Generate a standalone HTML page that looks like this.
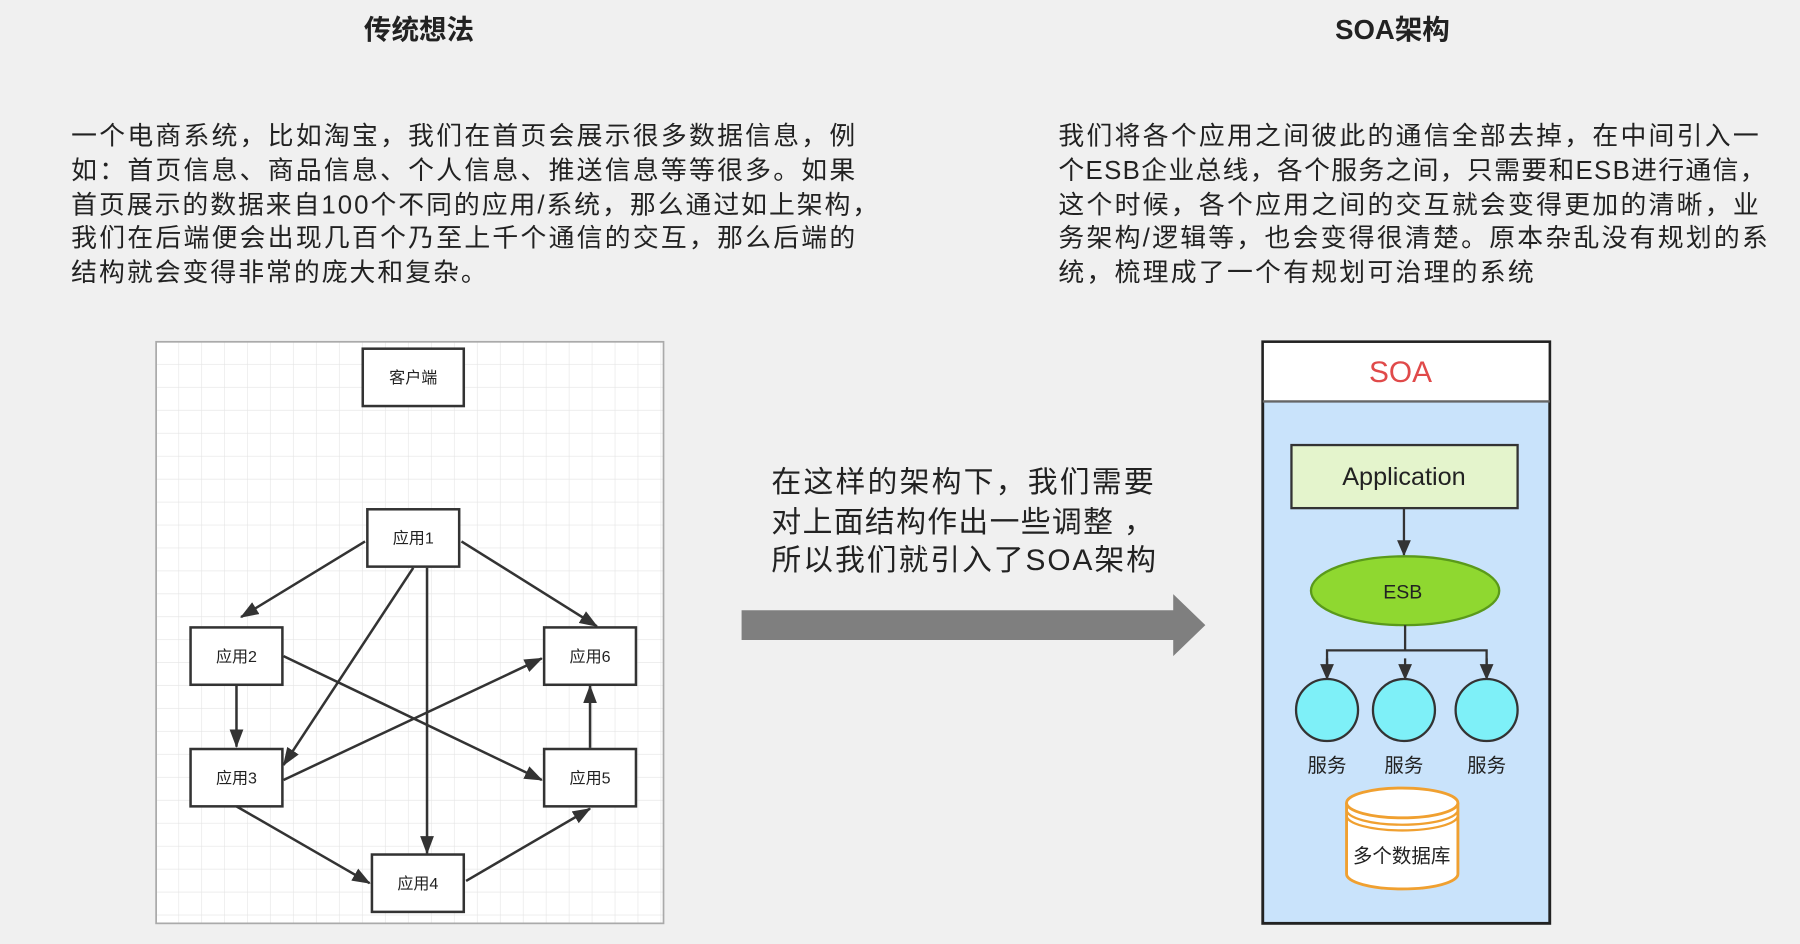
<!DOCTYPE html>
<html><head><meta charset="utf-8"><style>
html,body{margin:0;padding:0;background:#f0f0f0;}
svg{display:block;}
text{font-family:"Liberation Sans","Noto Sans CJK SC",sans-serif;fill:#222;}
</style></head><body>
<svg width="1800" height="944" viewBox="0 0 1568 823" preserveAspectRatio="none" xmlns="http://www.w3.org/2000/svg">
<defs>
<pattern id="g" width="20" height="20" patternUnits="userSpaceOnUse" x="136" y="298">
<path d="M20 0V20M0 20H20" stroke="#e4e4e4" stroke-width="1" fill="none"/>
</pattern>
<marker id="a" markerWidth="14" markerHeight="12" refX="13" refY="6" orient="auto" markerUnits="userSpaceOnUse">
<path d="M0,0L14,6L0,12Z" fill="#333"/>
</marker>
<marker id="b" markerWidth="16" markerHeight="12" refX="15" refY="6" orient="auto" markerUnits="userSpaceOnUse">
<path d="M0,0L16,6L0,12Z" fill="#333"/>
</marker>
</defs>
<rect width="1568" height="823" fill="#f0f0f0"/>
<text x="365" y="34" text-anchor="middle" font-size="24" font-weight="bold">传统想法</text>
<text x="1213" y="34" text-anchor="middle" font-size="24" font-weight="bold">SOA架构</text>

<g font-size="22.5">
<text x="62" y="126" textLength="683">一个电商系统，比如淘宝，我们在首页会展示很多数据信息，例</text>
<text x="62" y="156" textLength="683">如：首页信息、商品信息、个人信息、推送信息等等很多。如果</text>
<text x="62" y="186" textLength="703">首页展示的数据来自100个不同的应用/系统，那么通过如上架构，</text>
<text x="62" y="215" textLength="683">我们在后端便会出现几百个乃至上千个通信的交互，那么后端的</text>
<text x="62" y="245" textLength="362">结构就会变得非常的庞大和复杂。</text>
<text x="922" y="126" textLength="610">我们将各个应用之间彼此的通信全部去掉，在中间引入一</text>
<text x="922" y="156" textLength="616">个ESB企业总线，各个服务之间，只需要和ESB进行通信，</text>
<text x="922" y="186" textLength="610">这个时候，各个应用之间的交互就会变得更加的清晰，业</text>
<text x="922" y="215" textLength="618">务架构/逻辑等，也会变得很清楚。原本杂乱没有规划的系</text>
<text x="922" y="245" textLength="414">统，梳理成了一个有规划可治理的系统</text>
</g>
<g font-size="26">
<text x="672" y="429" textLength="333">在这样的架构下，我们需要</text>
<text x="672" y="464" textLength="333">对上面结构作出一些调整 ，</text>
<text x="672" y="497" textLength="335">所以我们就引入了SOA架构</text>
</g>

<!-- left diagram -->
<rect x="136" y="298" width="442" height="507" fill="#fff"/>
<rect x="136" y="298" width="442" height="507" fill="url(#g)" stroke="#aaa" stroke-width="1.5"/>
<g fill="#fff" stroke="#333" stroke-width="2.2">
<rect x="316" y="304" width="88" height="50"/>
<rect x="320" y="444" width="80" height="50"/>
<rect x="166" y="547" width="80" height="50"/>
<rect x="474" y="547" width="80" height="50"/>
<rect x="166" y="653" width="80" height="50"/>
<rect x="474" y="653" width="80" height="50"/>
<rect x="324" y="745" width="80" height="50"/>
</g>
<g font-size="14" text-anchor="middle" fill="#333">
<text x="360" y="334">客户端</text>
<text x="360" y="474">应用1</text>
<text x="206" y="577">应用2</text>
<text x="514" y="577">应用6</text>
<text x="206" y="683">应用3</text>
<text x="514" y="683">应用5</text>
<text x="364" y="775">应用4</text>
</g>
<g stroke="#333" stroke-width="2.2" marker-end="url(#b)" fill="none">
<line x1="318" y1="472" x2="210" y2="538"/>
<line x1="360" y1="495" x2="247" y2="667"/>
<line x1="372" y1="495" x2="372" y2="744"/>
<line x1="402" y1="472" x2="520" y2="546"/>
<line x1="247" y1="572" x2="472" y2="680"/>
<line x1="206" y1="598" x2="206" y2="651"/>
<line x1="247" y1="680" x2="472" y2="574"/>
<line x1="206" y1="703" x2="322" y2="770"/>
<line x1="406" y1="768" x2="514" y2="705"/>
<line x1="514" y1="652" x2="514" y2="598"/>
</g>

<!-- big arrow -->
<path d="M646,532H1022V518L1050,545L1022,572V558H646Z" fill="#7f7f7f"/>

<!-- SOA -->
<rect x="1100" y="298" width="250" height="507" fill="#c9e3fb" stroke="#222" stroke-width="2.5"/>
<rect x="1101" y="299" width="248" height="51" fill="#fff"/>
<line x1="1100" y1="350" x2="1350" y2="350" stroke="#666" stroke-width="2"/>
<text x="1220" y="333" text-anchor="middle" font-size="26" style="fill:#e04a4a">SOA</text>
<rect x="1125" y="388" width="197" height="55" fill="#e4f4cc" stroke="#333" stroke-width="2"/>
<text x="1223" y="423" text-anchor="middle" font-size="22" fill="#333">Application</text>
<line x1="1223" y1="443" x2="1223" y2="484" stroke="#333" stroke-width="2" marker-end="url(#a)"/>
<ellipse cx="1224" cy="515" rx="82" ry="30" fill="#8fd830" stroke="#5a9a1a" stroke-width="2"/>
<text x="1222" y="522" text-anchor="middle" font-size="17" fill="#333">ESB</text>
<path d="M1224,545V567M1156,590V567H1295V590" stroke="#333" stroke-width="2" fill="none"/>
<g stroke="#333" stroke-width="2">
<line x1="1156" y1="574" x2="1156" y2="592" marker-end="url(#a)"/>
<line x1="1224" y1="574" x2="1224" y2="592" marker-end="url(#a)"/>
<line x1="1295" y1="574" x2="1295" y2="592" marker-end="url(#a)"/>
</g>
<g fill="#7ef0f8" stroke="#333" stroke-width="2">
<circle cx="1156" cy="619" r="27"/>
<circle cx="1223" cy="619" r="27"/>
<circle cx="1295" cy="619" r="27"/>
</g>
<g font-size="17" text-anchor="middle" fill="#555">
<text x="1156" y="673">服务</text>
<text x="1223" y="673">服务</text>
<text x="1295" y="673">服务</text>
</g>
<path d="M1173,700V762A48.5,13 0 0 0 1270,762V700" fill="#fff" stroke="#f0a030" stroke-width="2.5"/>
<ellipse cx="1221.5" cy="700" rx="48.5" ry="13" fill="#fff" stroke="#f0a030" stroke-width="2.5"/>
<path d="M1173,706A48.5,13 0 0 0 1270,706M1173,711A48.5,13 0 0 0 1270,711" fill="none" stroke="#f0a030" stroke-width="2"/>
<text x="1221" y="752" text-anchor="middle" font-size="17" fill="#444">多个数据库</text>
</svg>
</body></html>
